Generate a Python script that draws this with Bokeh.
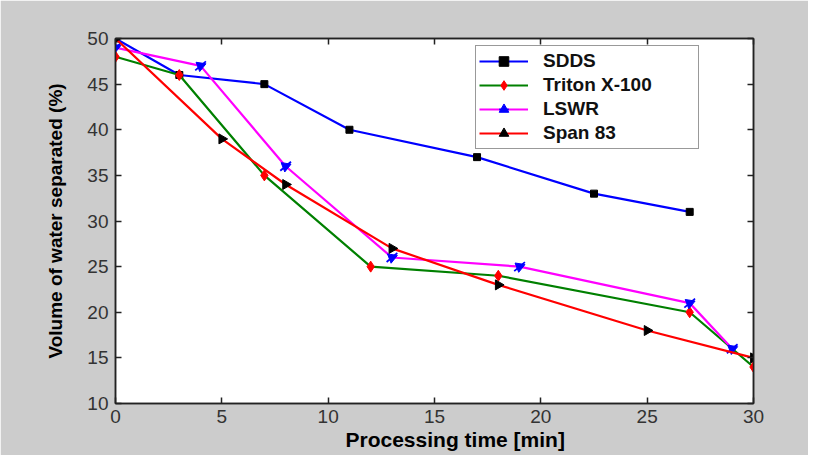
import math
from bokeh.plotting import figure
from bokeh.models import Range1d, LinearAxis, FixedTicker, Legend, LegendItem, Title
from bokeh.embed import file_html
from bokeh.resources import INLINE

# ---- data ----
time_sdds = [0, 3, 7, 11, 17, 22.5, 27]
sdds = [50, 46, 45, 40, 37, 33, 31]

time_triton = [0, 3, 7, 12, 18, 27, 30]
triton = [48, 46, 35, 25, 24, 20, 14]

time_lswr = [0, 4, 8, 13, 19, 27, 29]
lswr = [49, 47, 36, 26, 25, 21, 16]

time_span = [0, 5, 8, 13, 18, 25, 30]
span83 = [50, 39, 34, 27, 23, 18, 15]

x_ticks = [0, 5, 10, 15, 20, 25, 30]
y_ticks = [10, 15, 20, 25, 30, 35, 40, 45, 50]

FONT = "Liberation Sans"
GRAY = "#cccccc"

p = figure(width=808, height=455, output_backend="svg", toolbar_location=None,
           x_range=Range1d(0, 30), y_range=Range1d(10, 50),
           min_border_left=115, min_border_right=55, min_border_top=38, min_border_bottom=52,
           background_fill_color="white", border_fill_color=GRAY,
           outline_line_color="#222222", outline_line_width=1.5)
p.grid.visible = False

xbot = p.below[0]
yleft = p.left[0]
xtop = LinearAxis()
yright = LinearAxis()
p.add_layout(xtop, "above")
p.add_layout(yright, "right")

for ax in (xbot, xtop):
    ax.ticker = FixedTicker(ticks=x_ticks)
for ax in (yleft, yright):
    ax.ticker = FixedTicker(ticks=y_ticks)
for ax in (xbot, xtop, yleft, yright):
    ax.axis_line_color = "#222222"
    ax.axis_line_width = 1.5
    ax.major_tick_line_color = "#222222"
    ax.major_tick_line_width = 1.5
    ax.major_tick_in = 6
    ax.major_tick_out = 0
    ax.minor_tick_line_color = None
    ax.major_label_text_font = FONT
    ax.major_label_text_font_size = "19px"
    ax.major_label_text_color = "#333333"

xtop.major_label_text_color = None
yright.major_label_text_color = None
xbot.major_label_standoff = 6
yleft.major_label_standoff = 7

yleft.axis_label = "Volume of water separated (%)"
yleft.axis_label_text_font = FONT
yleft.axis_label_text_font_size = "19px"
yleft.axis_label_text_font_style = "bold"
yleft.axis_label_text_color = "black"
yleft.axis_label_standoff = 18

xt = Title(text="Processing time [min]", align="left", offset=230,
           text_font=FONT, text_font_size="21px", text_font_style="bold",
           text_color="black", standoff=0)
p.add_layout(xt, "below")

# ---- series ----
l1 = p.line(time_sdds, sdds, line_color="#0000ff", line_width=2.2)
m1 = p.scatter(time_sdds, sdds, marker="square", size=7, fill_color="black", line_color="black")

l2 = p.line(time_triton, triton, line_color="#008000", line_width=2.2)
m2 = p.scatter(time_triton, triton, marker="diamond", size=11, fill_color="#ff0000", line_color="#ff0000")

l3 = p.line(time_lswr, lswr, line_color="#ff00ff", line_width=2.2)
m3a = p.scatter(time_lswr, lswr, marker="dash", size=14, angle=0.7, line_color="#0000ff", line_width=1.8)
m3b = p.scatter(time_lswr, lswr, marker="triangle", size=10, angle=-1.2, fill_color="#0000ff", line_color="#0000ff")

l4 = p.line(time_span, span83, line_color="#ff0000", line_width=2.2)
m4 = p.scatter(time_span, span83, marker="triangle", size=10, angle=-math.pi / 2, fill_color="black", line_color="black")

legend = Legend(items=[
    LegendItem(label="SDDS", renderers=[l1, m1]),
    LegendItem(label="Triton X-100", renderers=[l2, m2]),
    LegendItem(label="LSWR", renderers=[l3, m3a, m3b]),
    LegendItem(label="Span 83", renderers=[l4, m4]),
], location=(360, 254))
legend.label_text_font = FONT
legend.label_text_font_size = "19px"
legend.label_text_font_style = "bold"
legend.label_text_color = "#111111"
legend.border_line_color = "#333333"
legend.border_line_width = 1.5
legend.background_fill_color = "white"
legend.background_fill_alpha = 1
legend.padding = 3
legend.spacing = 0
legend.margin = 0
legend.glyph_width = 49
legend.glyph_height = 24
legend.label_height = 24
legend.label_width = 152
legend.label_standoff = 15
p.add_layout(legend)

open("out.html", "w").write(file_html(p, INLINE))
